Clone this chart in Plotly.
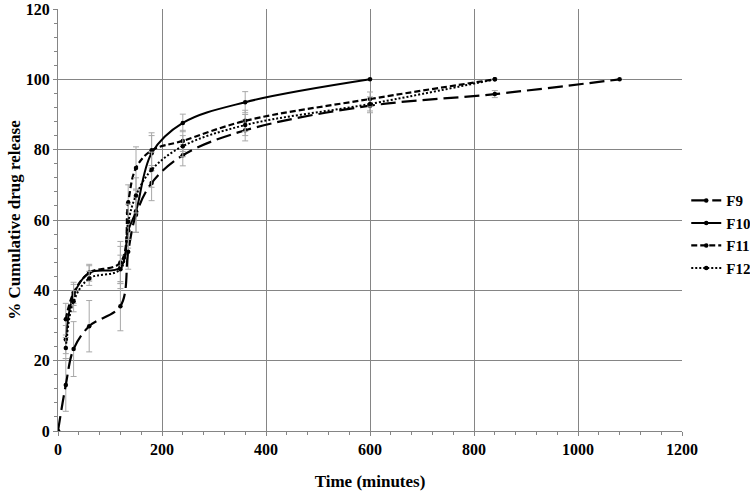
import plotly.graph_objects as go

# Data
t_f9 = [0, 15, 30, 60, 120, 135, 150, 180, 240, 360, 600, 840, 1080]
y_f9 = [0, 13.1, 23.3, 29.8, 35.5, 51.0, 61.5, 70.5, 78.4, 85.5, 92.5, 95.8, 100]
e_f9 = [0, 7.5, 7.8, 7.3, 7.0, 5, 5, 5, 3, 3, 2, 1, 0]

t_f10 = [15, 30, 60, 120, 135, 150, 180, 240, 360, 600]
y_f10 = [26.0, 38.7, 45.0, 46.5, 57.0, 62.5, 79.0, 87.6, 93.5, 100]
e_f10 = [4, 3, 2.4, 6, 5, 6, 5, 2.5, 3, 0]

t_f11 = [15, 30, 60, 120, 135, 150, 180, 240, 360, 600, 840]
y_f11 = [31.8, 39.3, 45.0, 47.9, 65.0, 74.8, 79.8, 82.5, 88.2, 94.4, 100]
e_f11 = [4.5, 3, 2, 6, 5, 6, 5, 3, 3, 2, 0]

t_f12 = [15, 30, 60, 120, 135, 150, 180, 240, 360, 600, 840]
y_f12 = [23.6, 36.9, 43.4, 46.0, 59.5, 67.0, 74.3, 81.0, 87.0, 93.0, 100]
e_f12 = [3, 3, 2, 4, 5, 5, 5, 3, 3, 2, 0]

x_ticks = [0, 200, 400, 600, 800, 1000, 1200]
y_ticks = [0, 20, 40, 60, 80, 100, 120]
names = ["F9", "F10", "F11", "F12"]

FONT = "Liberation Serif"
GRID = "#858585"
series = [
    (t_f9, y_f9, e_f9, "15px,6px", 2.2),
    (t_f10, y_f10, e_f10, "solid", 2.0),
    (t_f11, y_f11, e_f11, "6px,3px", 2.2),
    (t_f12, y_f12, e_f12, "2px,2px", 2.0),
]

fig = go.Figure()
for name, (t, y, e, dash, w) in zip(names, series):
    fig.add_trace(go.Scatter(
        x=t, y=y, name=f"<b>{name}</b>", mode="lines+markers",
        line=dict(color="black", width=w, dash=dash, shape="spline", smoothing=1),
        marker=dict(color="black", size=4.5),
        error_y=dict(type="data", array=e, visible=True, color="#a8a8a8",
                     thickness=1, width=3),
    ))

axis_common = dict(
    showgrid=True, gridcolor=GRID, gridwidth=1,
    showline=True, linecolor=GRID, linewidth=1,
    ticks="outside", tickcolor=GRID, ticklen=4,
    tickfont=dict(family=FONT, size=16, color="black"),
    zeroline=False, automargin=False, ticklabeloverflow="allow",
)

fig.update_layout(
    width=750, height=491,
    margin=dict(l=58, r=68, t=9, b=60),
    paper_bgcolor="white", plot_bgcolor="white",
    font=dict(family=FONT, color="black"),
    xaxis=dict(range=[0, 1200], tickvals=x_ticks, ticktext=[f"<b>{v}</b>" for v in x_ticks],
               minor=dict(dtick=40, ticks="outside", ticklen=3, tickcolor=GRID, showgrid=False),
               title=dict(text="<b>Time (minutes)</b>", font=dict(family=FONT, size=17), standoff=17),
               **axis_common),
    yaxis=dict(range=[0, 120], tickvals=y_ticks, ticktext=[f"<b>{v}</b>" for v in y_ticks],
               minor=dict(dtick=4, ticks="outside", ticklen=3, tickcolor=GRID, showgrid=False),
               title=dict(text="<b>% Cumulative drug release</b>", font=dict(family=FONT, size=17), standoff=0),
               **axis_common),
    legend=dict(xref="container", yref="container", x=0.915, y=0.523,
                xanchor="left", yanchor="middle",
                font=dict(family=FONT, size=15, color="black"),
                itemwidth=30, tracegroupgap=0, bgcolor="rgba(0,0,0,0)"),
    showlegend=True,
)

fig.write_html("out.html", config={"displayModeBar": False},
               post_script="document.body.style.margin='0px';")
